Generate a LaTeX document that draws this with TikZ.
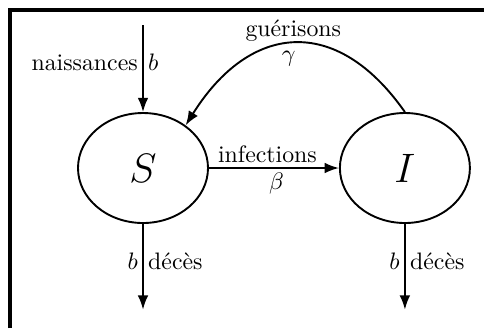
\documentclass[tikz,border=0pt]{standalone}
\usepackage{tikz}
\usetikzlibrary{arrows.meta, positioning, shapes.geometric}

\begin{document}
\begin{tikzpicture}[
        compart/.style={draw, thick, ellipse, minimum width=54.6pt, minimum height=46.2pt, inner sep=0pt, font=\LARGE},
        flux/.style={thick, -{Latex[length=6pt, width=4.5pt]}},
        lbl/.style={inner sep=1.8pt},
        node distance=54.6pt
    ]
        \useasboundingbox (-60.06pt,-67.2pt) rectangle (143.22pt,70.56pt);
        % frame (only top and left edges show)
        \draw[line width=1.5pt] (-55.86pt,-67.2pt) |- (143.22pt,66.36pt);

        \node[compart] (S) at (0,0) {$S$};
        \node[compart, right=of S] (I) {$I$};

        \coordinate[above=36.5pt of S.north] (birth);
        \coordinate[below=36pt of S.south] (deathS);
        \coordinate[below=36pt of I.south] (deathI);

        \draw[flux] (birth) -- node[lbl, pos=0.43, left] {naissances} node[lbl, pos=0.43, right] {$b$} (S.north);
        \draw[flux] (S.east) -- node[lbl, pos=0.45, above] {infections} node[lbl, pos=0.52, below] {$\beta$} (I.west);
        \draw[flux] (I.north) to[out=125, in=58, looseness=1.4]
            node[inner sep=0.5pt, above] {guérisons} node[inner sep=2.8pt, pos=0.52, below] {$\gamma$} (S.45);
        \draw[flux] (S.south) -- node[lbl, pos=0.44, left] {$b$} node[lbl, pos=0.44, right] {décès} (deathS);
        \draw[flux] (I.south) -- node[lbl, pos=0.44, left] {$b$} node[lbl, pos=0.44, right] {décès} (deathI);
    \end{tikzpicture}
\end{document}
